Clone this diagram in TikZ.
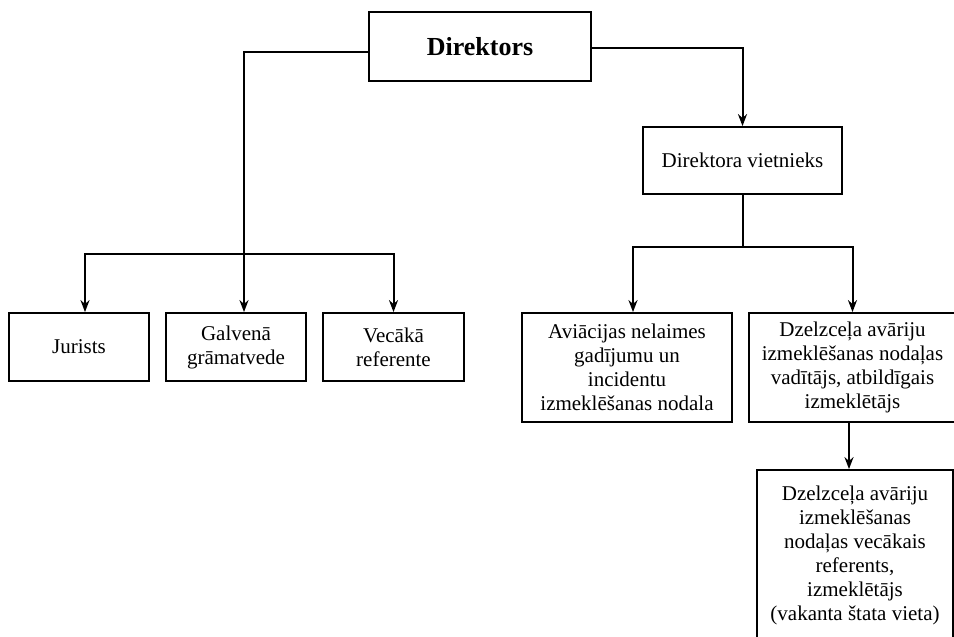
\documentclass[tikz,border=0pt]{standalone}
\usepackage{fontspec}
\setmainfont{Liberation Serif}
\usetikzlibrary{positioning,arrows.meta}

\begin{document}
\begin{tikzpicture}[x=0.5pt, y=-0.5pt,
  box/.style={draw, line width=0.9pt, inner sep=0pt, align=center,
    font=\fontsize{10.5}{12}\selectfont},
  link/.style={line width=1pt, -{Stealth[length=6pt, width=4.5pt]}}]
  \useasboundingbox[fill=white] (0,0) rectangle (954,637);
  \node[box, minimum width=111pt, minimum height=34.5pt, font=\fontsize{13}{15}\selectfont\bfseries]
    (dir) at (480,46.5) {Direktors};
  \node[box, minimum width=99.5pt, minimum height=33.5pt] (viet) at (742.5,160.5) {Direktora vietnieks};
  \node[box, minimum width=70pt, minimum height=34pt] (jur) at (79,347) {Jurists};
  \node[box, minimum width=70pt, minimum height=34pt] (gal) at (236,347) {Galvenā\\grāmatvede};
  \node[box, minimum width=70.5pt, minimum height=34pt] (vec) at (393.5,347) {Vecākā\\referente};
  \node[box, minimum width=105pt, minimum height=54.5pt] (avi) at (627,367.5)
    {Aviācijas nelaimes\\gadījumu un\\incidentu\\izmeklēšanas nodala};
  \node[box, minimum width=103.5pt, minimum height=54.5pt] (dzv) at (852.5,367.5)
    {Dzelzceļa avāriju\\izmeklēšanas nodaļas\\vadītājs, atbildīgais\\izmeklētājs};
  \node[box, minimum width=98pt, minimum height=85pt] (dzr) at (855,555)
    {Dzelzceļa avāriju\\izmeklēšanas\\nodaļas vecākais\\referents,\\izmeklētājs\\(vakanta štata vieta)};
  \coordinate (lbus) at (244,254);
  \coordinate (rbus) at (742.5,247);
  \draw[link] ([yshift=-2.75pt]dir.west) -| ([xshift=4pt]gal.north);
  \draw[link] ([yshift=-0.75pt]dir.east) -| (viet.north);
  \draw[link] (lbus) -| ([xshift=3pt]jur.north);
  \draw[link] (lbus) -| (vec.north);
  \draw[line width=1pt] (viet.south) -- (rbus);
  \draw[link] (rbus) -| ([xshift=3pt]avi.north);
  \draw[link] (rbus) -| (dzv.north);
  \draw[link] ([xshift=-1.75pt]dzv.south) -- ([xshift=-1.75pt]dzv.south |- dzr.north);
\end{tikzpicture}
\end{document}
